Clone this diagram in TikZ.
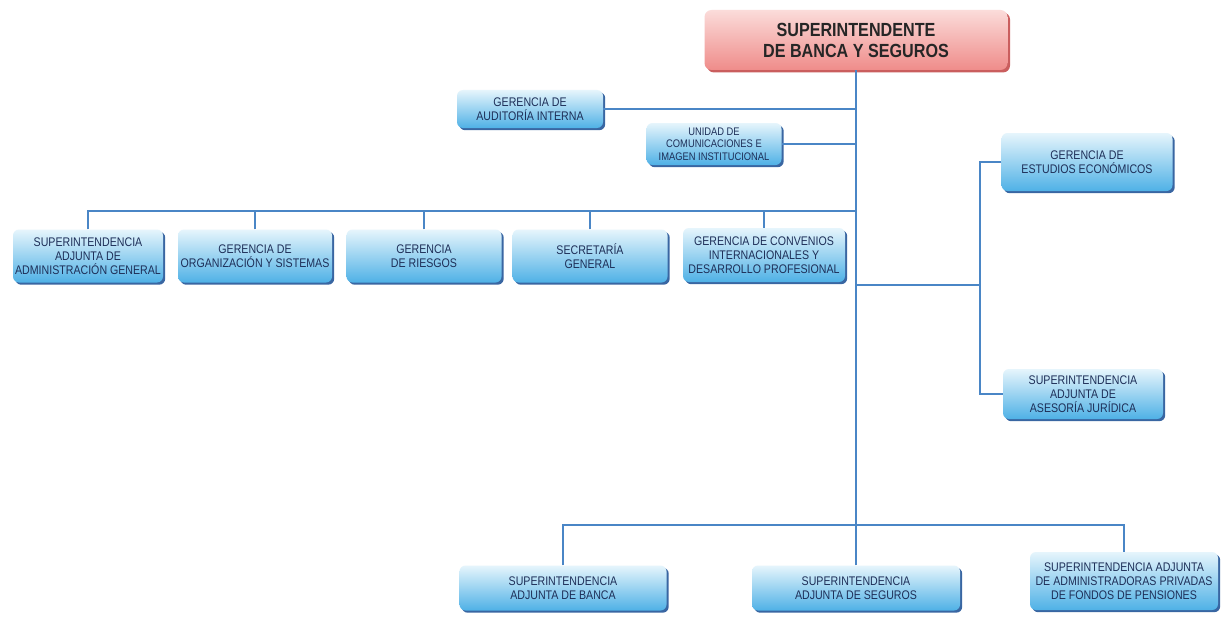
\documentclass[tikz,border=0pt]{standalone}
\usepackage{fontspec}
\setmainfont[FakeStretch=0.85]{Liberation Sans}
\usetikzlibrary{positioning,shadows}
\definecolor{boxtop}{HTML}{E6F5FC}
\definecolor{boxbot}{HTML}{4FB1E6}
\definecolor{boxedge}{HTML}{2F5E9E}
\definecolor{headtop}{HTML}{FBDCDA}
\definecolor{headbot}{HTML}{EF8C8A}
\definecolor{headedge}{HTML}{C85656}
\definecolor{linkblue}{HTML}{4A86C6}
\definecolor{textnavy}{HTML}{1E2F58}
\tikzset{
  unitbox/.style={rounded corners=6pt, top color=boxtop, bottom color=boxbot,
    draw=none, align=center, text=textnavy, inner sep=2pt,
    font=\fontsize{12.5}{14}\selectfont,
    drop shadow={shadow xshift=2.2pt, shadow yshift=-2.2pt, fill=boxedge, opacity=.95}},
  smallbox/.style={unitbox, font=\fontsize{11}{12.5}\selectfont},
  headbox/.style={rounded corners=7pt, top color=headtop, bottom color=headbot,
    draw=none, align=center, text=black!85, inner sep=2pt,
    font=\bfseries\fontsize{19}{21}\selectfont,
    drop shadow={shadow xshift=2.5pt, shadow yshift=-2.5pt, fill=headedge, opacity=.95}},
  link/.style={draw=linkblue, line width=1.4pt}
}
\begin{document}
\begin{tikzpicture}[x=1pt,y=-1pt]
\useasboundingbox[fill=white] (0,0) rectangle (1224,618);

% ------------------------------------------------------------------
% head and staff units
% ------------------------------------------------------------------
\node[headbox, minimum width=303, minimum height=60] (head) at (856,40)
  {SUPERINTENDENTE\\DE BANCA Y SEGUROS};

\node[unitbox, minimum width=146, minimum height=38] (audit) at (530,109)
  {GERENCIA DE\\AUDITORÍA INTERNA};
\node[smallbox, minimum width=135, minimum height=42] (comms) at (714,144)
  {UNIDAD DE\\COMUNICACIONES E\\IMAGEN INSTITUCIONAL};

% ------------------------------------------------------------------
% first row
% ------------------------------------------------------------------
\node[unitbox, minimum width=150, minimum height=53] (admin) at (88,256)
  {SUPERINTENDENCIA\\ADJUNTA DE\\ADMINISTRACIÓN GENERAL};
\node[unitbox, minimum width=154, minimum height=53] (orgsys) at (255,256)
  {GERENCIA DE\\ORGANIZACIÓN Y SISTEMAS};
\node[unitbox, minimum width=155, minimum height=53] (risk) at (424,256)
  {GERENCIA\\DE RIESGOS};
\node[unitbox, minimum width=155, minimum height=53] (secr) at (590,256)
  {SECRETARÍA\\GENERAL};
\node[unitbox, minimum width=162, minimum height=54] (conv) at (764,255)
  {GERENCIA DE CONVENIOS\\INTERNACIONALES Y\\DESARROLLO PROFESIONAL};

% ------------------------------------------------------------------
% right branch
% ------------------------------------------------------------------
\node[unitbox, minimum width=171, minimum height=58] (econ) at (1087,162)
  {GERENCIA DE\\ESTUDIOS ECONÓMICOS};
\node[unitbox, minimum width=160, minimum height=50] (legal) at (1083,394)
  {SUPERINTENDENCIA\\ADJUNTA DE\\ASESORÍA JURÍDICA};

% ------------------------------------------------------------------
% bottom row
% ------------------------------------------------------------------
\node[unitbox, minimum width=207, minimum height=45] (bank) at (563,588)
  {SUPERINTENDENCIA\\ADJUNTA DE BANCA};
\node[unitbox, minimum width=208, minimum height=45] (insur) at (856,588)
  {SUPERINTENDENCIA\\ADJUNTA DE SEGUROS};
\node[unitbox, minimum width=188, minimum height=58] (pens) at (1124,581)
  {SUPERINTENDENCIA ADJUNTA\\DE ADMINISTRADORAS PRIVADAS\\DE FONDOS DE PENSIONES};

% connectors
\coordinate (busA) at (856,211);
\coordinate (busR) at (856,285);
\coordinate (sideR) at (980,285);
\coordinate (busB) at (856,525);

\draw[link] (head.south) -- (busB);
\draw[link] (audit.east) -- (audit.east -| head.south);
\draw[link] (comms.east) -- (comms.east -| head.south);
\draw[link] (admin.north) |- (busA);
\foreach \u in {orgsys,risk,secr,conv}
  \draw[link] (\u.north) -- (\u.north |- busA);
\draw[link] (busR) -- (sideR);
\draw[link] (econ.west) -| (sideR);
\draw[link] (legal.west) -| (sideR);
\draw[link] (bank.north) |- (busB);
\draw[link] (pens.north) |- (busB);
\draw[link] (insur.north) -- (busB);

\end{tikzpicture}
\end{document}
